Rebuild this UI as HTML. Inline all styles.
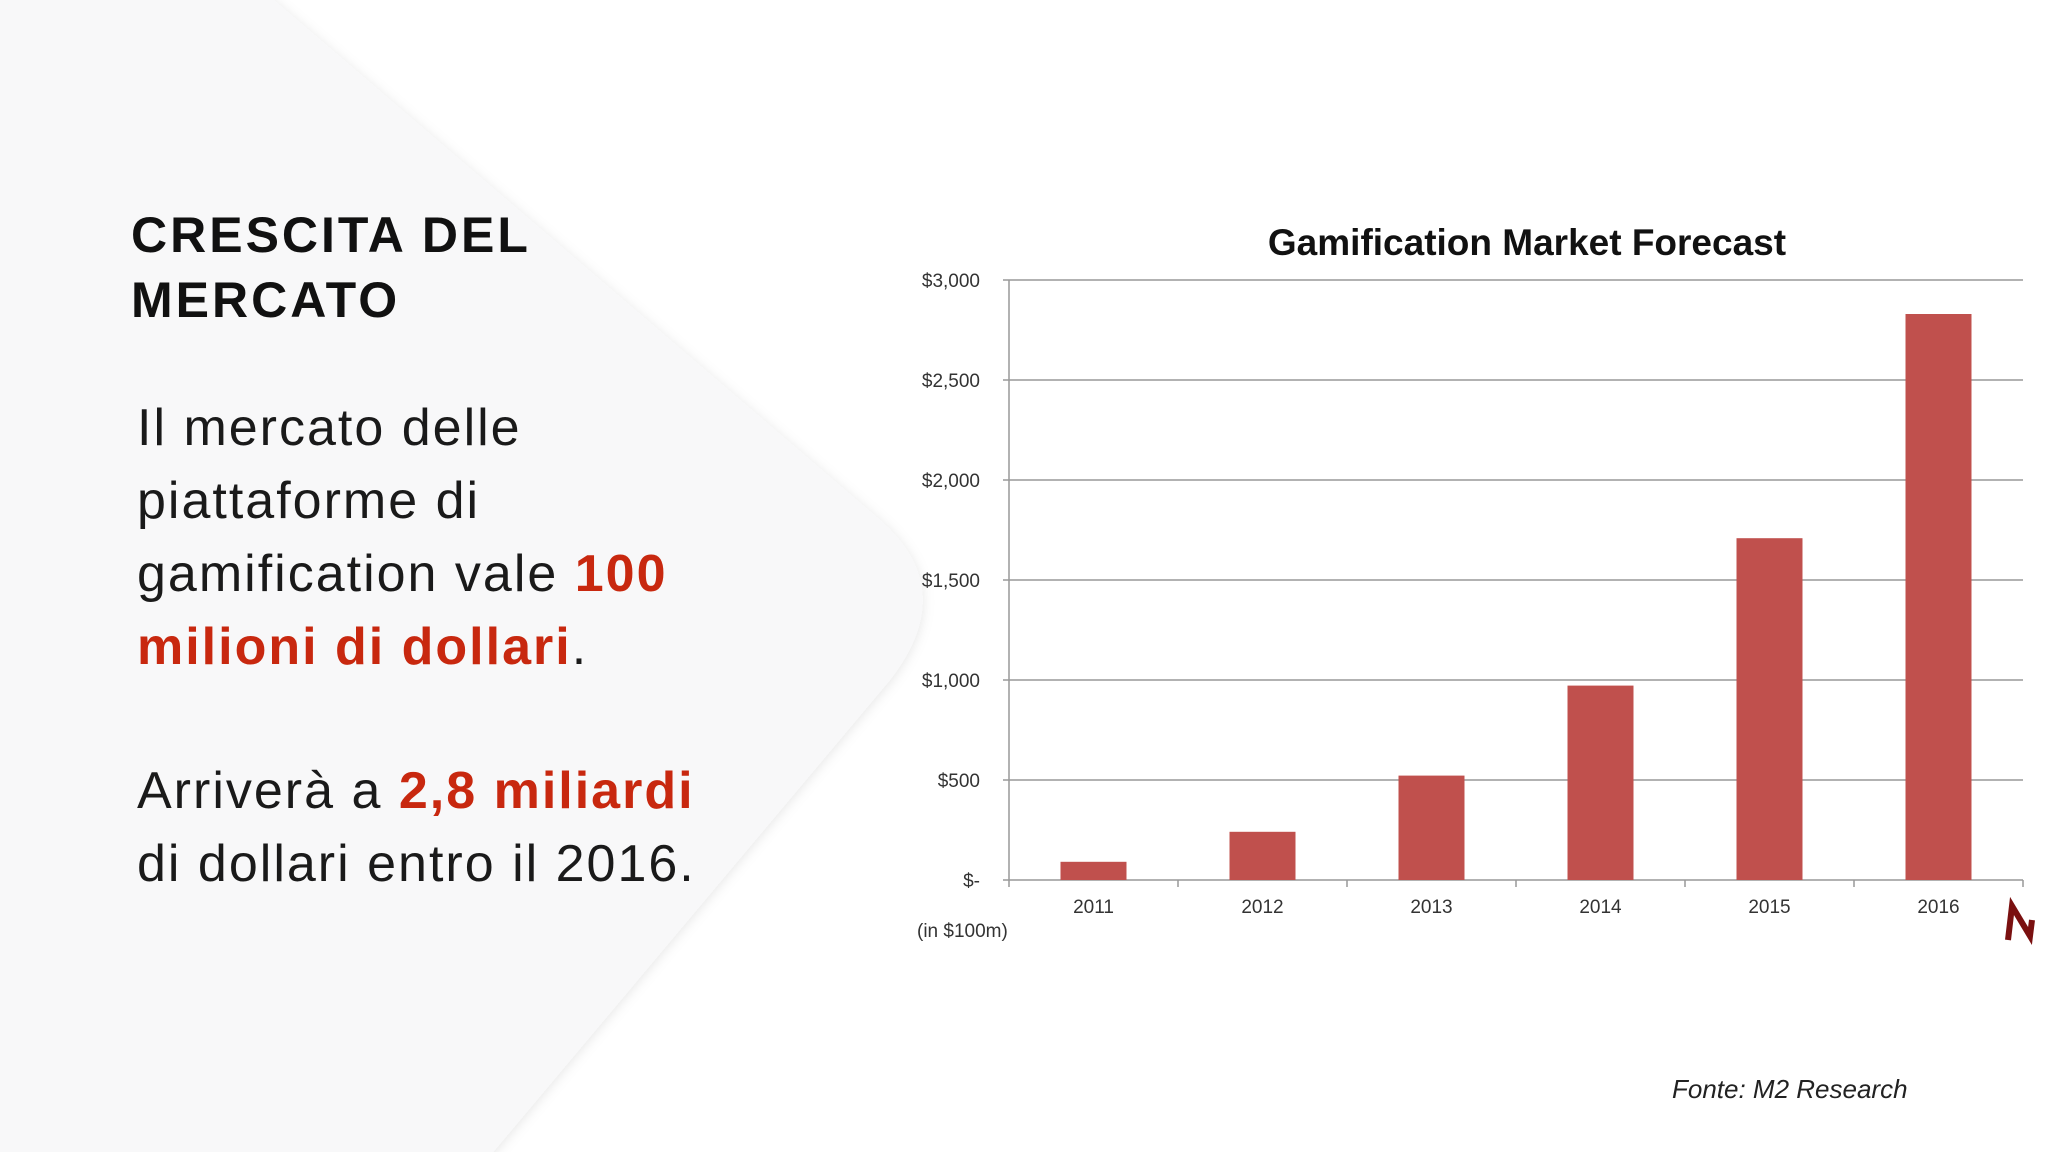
<!DOCTYPE html>
<html><head><meta charset="utf-8"><style>
html,body{margin:0;padding:0;background:#fff;}
body{width:2048px;height:1152px;position:relative;overflow:hidden;font-family:"Liberation Sans",sans-serif;}
.h{position:absolute;left:131px;font-weight:bold;font-size:50px;color:#111;letter-spacing:3px;line-height:65px;}
.p{position:absolute;left:137px;font-size:52px;color:#1a1a1a;line-height:73px;letter-spacing:2px;}
.r{color:#c8280f;font-weight:bold;}
</style></head><body>
<svg width="2048" height="1152" style="position:absolute;left:0;top:0">
<defs><filter id="sh" x="-10%" y="-10%" width="120%" height="120%"><feDropShadow dx="0" dy="2" stdDeviation="6" flood-color="#000" flood-opacity="0.10"/></filter></defs>
<path d="M0,-10 L262,-10 L880,520 Q960,590 890,680 L478,1170 L0,1170 Z" fill="#f8f8f9" filter="url(#sh)"/>
</svg>
<div class="h" style="top:203px">CRESCITA DEL<br>MERCATO</div>
<div class="p" style="top:392px">Il mercato delle<br>piattaforme di<br>gamification vale <span class="r">100<br>milioni di dollari</span>.</div>
<div class="p" style="top:755px">Arriverà a <span class="r">2,8 miliardi</span><br>di dollari entro il 2016.</div>
<div style="position:absolute;left:1672px;top:1074px;font-size:26px;font-style:italic;color:#222">Fonte: M2 Research</div>
<svg id="chart" width="2048" height="1152" style="position:absolute;left:0;top:0"></svg>
<script>
const categories=["2011","2012","2013","2014","2015","2016"];
const values=[91,241,522,972,1709,2830];
const yTicks=[0,500,1000,1500,2000,2500,3000];
const yTickLabels=["$-","$500","$1,000","$1,500","$2,000","$2,500","$3,000"];
const NS="http://www.w3.org/2000/svg";
const svg=document.getElementById('chart');
const X0=1009,X1=2023,Y0=880,Y1=280,YMAX=3000;
const y=v=>Y0-(v/YMAX)*(Y0-Y1);
const cw=(X1-X0)/categories.length;
const xc=i=>X0+cw*(i+0.5);
function mk(t,a){const e=document.createElementNS(NS,t);for(const k in a)e.setAttribute(k,a[k]);svg.appendChild(e);return e;}
const title=mk('text',{x:1527,y:255,'text-anchor':'middle','font-size':37,'font-weight':'bold',fill:'#111'});


title.textContent="Gamification Market Forecast";
yTicks.forEach((v,i)=>{
 const l=mk('line',{x1:X0-6,x2:X1,y1:y(v),y2:y(v),stroke:'#999','stroke-width':1.5});
 
 
 const t=mk('text',{x:980,y:y(v)+7,'text-anchor':'end','font-size':19,fill:'#333'});
 
 
 t.textContent=yTickLabels[i];
});
const ax=mk('line',{x1:X0,x2:X0,y1:Y1,y2:Y0,stroke:'#999','stroke-width':1.5});


for(let i=0;i<=categories.length;i++){
 const tk=mk('line',{x1:X0+cw*i,x2:X0+cw*i,y1:Y0,y2:Y0+7,stroke:'#999','stroke-width':1.5});
 
 
}
categories.forEach((c,i)=>{
 const b=mk('rect',{x:xc(i)-33,y:y(values[i]),width:66,height:Y0-y(values[i]),fill:'#c0504d'});
 
 
 const t=mk('text',{x:xc(i),y:913,'text-anchor':'middle','font-size':19,fill:'#333'});
 
 
 t.textContent=c;
});
const u=mk('text',{x:917,y:937,'font-size':19,fill:'#333'});


u.textContent="(in $100m)";
const m=mk('path',{d:'M2008,940 L2012,906 L2030,936 L2032,920',stroke:'#7a1010','stroke-width':6,fill:'none'});


</script>
</body></html>
